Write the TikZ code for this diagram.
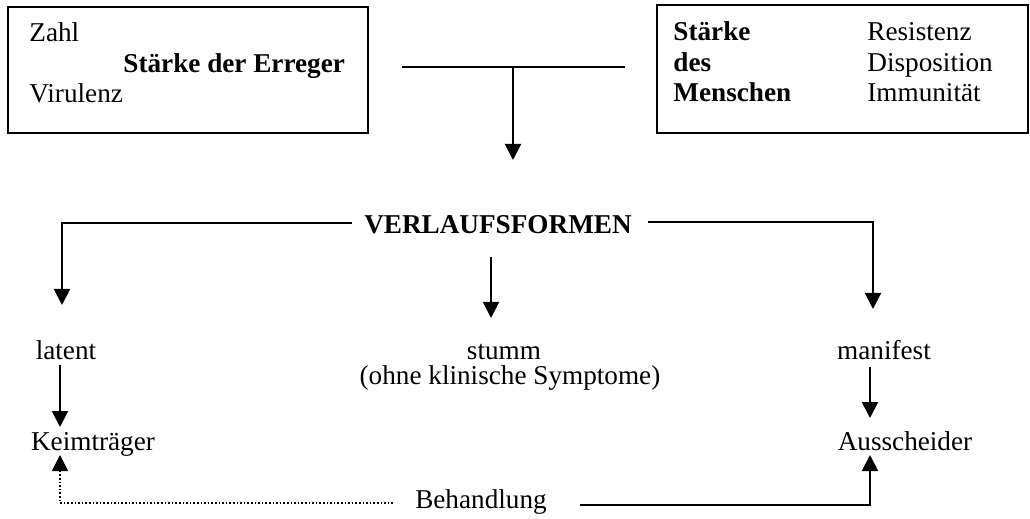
\documentclass[tikz,border=0pt]{standalone}
\usepackage{fontspec}
\setmainfont{Liberation Serif}
\usetikzlibrary{arrows.meta}

\tikzset{
  txt/.style={inner sep=0pt, text height=9.6pt, text depth=2.9pt, font=\fontsize{13.6}{16}\selectfont},
  bold/.style={txt, font=\fontsize{13.6}{16}\selectfont\bfseries},
  link/.style={line width=1pt},
  arr/.style={line width=1pt, -{Triangle[width=8pt,length=8pt]}},
  hint/.style={line width=0.8pt, densely dotted, -{Triangle[width=8pt,length=8pt]}},
}

\begin{document}
\begin{tikzpicture}[x=0.5pt,y=-0.5pt]
    \useasboundingbox (0,0) rectangle (1030,519);

    % the two boxes
    \draw[link] (8,7) rectangle (368,133);
    \draw[link] (657,5) rectangle (1028,133);

    \node[txt, anchor=west] (zahl) at (29,35) {Zahl};
    \node[bold, anchor=west] (erreger) at (123,66) {Stärke der Erreger};
    \node[txt, anchor=west] (virulenz) at (29,96) {Virulenz};

    \node[bold, anchor=west] (staerke) at (673,34) {Stärke};
    \node[bold, anchor=west] (des) at (673,65) {des};
    \node[bold, anchor=west] (menschen) at (673,95) {Menschen};
    \node[txt, anchor=west] (resistenz) at (867,34) {Resistenz};
    \node[txt, anchor=west] (disposition) at (867,65) {Disposition};
    \node[txt, anchor=west] (immun) at (867,95) {Immunität};

    % forms
    \node[bold] (verlauf) at (498,227) {VERLAUFSFORMEN};
    \node[txt] (latent) at (66,353) {latent};
    \node[txt] (stumm) at (504,353) {stumm};
    \node[txt] (ohne) at (510,378) {(ohne klinische Symptome)};
    \node[txt] (manifest) at (884,353) {manifest};
    \node[txt] (keim) at (93,444) {Keimträger};
    \node[txt] (aus) at (905,444) {Ausscheider};
    \node[txt] (behandlung) at (481,502) {Behandlung};

    % free ends of the lines
    \coordinate (topL) at (402,67);
    \coordinate (topR) at (625,67);
    \coordinate (topJ) at (513,67);
    \coordinate (topTip) at (513,160);
    \coordinate (vL) at (352,223);
    \coordinate (vLc) at (62,223);
    \coordinate (vLtip) at (62,305);
    \coordinate (vR) at (648,222);
    \coordinate (vRc) at (873,222);
    \coordinate (vRtip) at (873,309);
    \coordinate (vM) at (491,257);
    \coordinate (vMtip) at (491,318);
    \coordinate (latEnd) at (60,365);
    \coordinate (keimTop) at (60,427);
    \coordinate (keimBot) at (60,455);
    \coordinate (manEnd) at (870,367);
    \coordinate (ausTop) at (870,418);
    \coordinate (ausBot) at (870,455);
    \coordinate (behL) at (393,503);
    \coordinate (behLc) at (60,503);
    \coordinate (behR) at (580,505);
    \coordinate (behRc) at (870,505);

    \draw[link] (topL) -- (topR);
    \draw[arr] (topJ) -- (topTip);

    \draw[arr] (vL) -- (vLc) -- (vLtip);
    \draw[arr] (vR) -- (vRc) -- (vRtip);
    \draw[arr] (vM) -- (vMtip);

    \draw[arr] (latEnd) -- (keimTop);
    \draw[arr] (manEnd) -- (ausTop);

    \draw[hint] (behL) -- (behLc) -- (keimBot);
    \draw[arr] (behR) -- (behRc) -- (ausBot);
\end{tikzpicture}
\end{document}
